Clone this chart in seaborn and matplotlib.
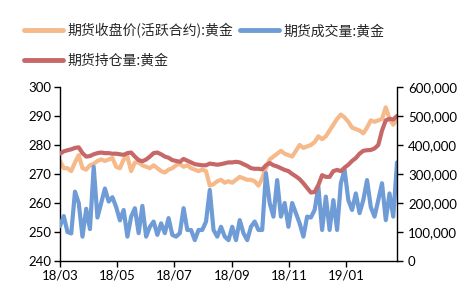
import numpy as np
import pandas as pd
import matplotlib
matplotlib.use("Agg")
import matplotlib.pyplot as plt
import matplotlib.dates as mdates
from matplotlib.ticker import FuncFormatter
from matplotlib.lines import Line2D
import seaborn as sns

# ---- data (sampled every 4 days from 2018-03-01) ----
dates = pd.date_range("2018-03-01", periods=91, freq="4D")

price = [274.5, 272, 272, 271, 274, 276.5, 272, 271.5, 273, 273.5,
         274.5, 275, 274.5, 275, 275.5, 272.5, 272, 275, 276, 271,
         274, 274, 273, 272.5, 272, 273, 272, 271, 270.5, 271.5,
         272, 273, 273.5, 272.5, 273, 272, 271.5, 271, 271.5, 271,
         266, 266.5, 267.5, 268, 267, 267.5, 267, 268, 269, 268.5,
         268, 268, 267.5, 266, 268.5, 272, 275, 276, 277, 278,
         277, 276.5, 276, 278, 280, 279, 279.5, 280, 281, 283,
         282, 283, 285, 287, 289, 290.5, 289.5, 288, 286, 285.5,
         285, 284, 286, 288.5, 288, 288.5, 289, 293, 289, 287,
         289]

volume = [120, 155, 100, 95, 239, 200, 84, 180, 110, 325,
          150, 200, 250, 205, 220, 186, 140, 176, 84, 153,
          182, 96, 190, 84, 118, 136, 90, 130, 96, 148,
          90, 84, 96, 182, 107, 107, 72, 107, 107, 136,
          245, 107, 84, 118, 84, 72, 118, 72, 141, 96,
          72, 118, 136, 107, 107, 303, 200, 153, 279, 153,
          200, 118, 200, 165, 130, 84, 153, 150, 176, 256,
          107, 222, 107, 210, 107, 268, 314, 210, 176, 233,
          165, 210, 279, 186, 153, 210, 268, 141, 233, 153,
          340]
volume = [v * 1000 for v in volume]

open_interest = [370, 378, 382, 385, 390, 392, 372, 360, 362, 368,
                 372, 374, 372, 372, 370, 370, 368, 366, 372, 374,
                 360, 348, 344, 350, 360, 372, 374, 368, 360, 356,
                 348, 345, 342, 352, 346, 340, 334, 332, 330, 330,
                 336, 334, 332, 334, 337, 340, 340, 342, 340, 334,
                 328, 320, 318, 318, 316, 330, 338, 330, 326, 320,
                 314, 310, 300, 292, 282, 268, 252, 236, 238, 262,
                 296, 290, 290, 310, 314, 310, 322, 332, 345, 355,
                 370, 380, 382, 383, 388, 400, 450, 485, 490, 488,
                 500]
open_interest = [v * 1000 for v in open_interest]

labels = ["期货收盘价(活跃合约):黄金", "期货成交量:黄金", "期货持仓量:黄金"]
left_ticks = [240, 250, 260, 270, 280, 290, 300]
right_ticks = [0, 100000, 200000, 300000, 400000, 500000, 600000]
x_ticks = ["2018-03-01", "2018-05-01", "2018-07-01", "2018-09-01", "2018-11-01", "2019-01-01"]

c_price = "#F5B98A"
c_vol = "#6F9BD6"
c_oi = "#C76868"

sns.set_theme(style="white")
plt.rcParams['font.family'] = ['Noto Sans CJK SC', 'DejaVu Sans']

fig = plt.figure(figsize=(4.68, 3.03), dpi=100)
ax = fig.add_axes([60/468, 1-261/303, (397-60)/468, (261-87)/303])
ax2 = ax.twinx()

df = pd.DataFrame({"date": dates, "price": price, "volume": volume, "oi": open_interest})
sns.lineplot(data=df, x="date", y="price", ax=ax, color=c_price, lw=3.0)
sns.lineplot(data=df, x="date", y="volume", ax=ax2, color=c_vol, lw=3.0)
sns.lineplot(data=df, x="date", y="oi", ax=ax2, color=c_oi, lw=3.0)

ax.set_ylim(240, 300)
ax.set_yticks(left_ticks)
ax2.set_ylim(0, 600000)
ax2.set_yticks(right_ticks)
ax2.yaxis.set_major_formatter(FuncFormatter(lambda v, p: f"{int(v):,}"))
ax.set_xlim(dates[0], dates[-1])
ax.set_xticks(pd.to_datetime(x_ticks))
ax.xaxis.set_major_formatter(mdates.DateFormatter("%y/%m"))
for a in (ax, ax2):
    a.set_xlabel("")
    a.set_ylabel("")
    for s in a.spines.values():
        s.set_visible(False)

ax.spines["left"].set_visible(True)
ax.spines["bottom"].set_visible(True)
ax2.spines["right"].set_visible(True)
for s in (ax.spines["left"], ax.spines["bottom"], ax2.spines["right"]):
    s.set_color("black")
    s.set_linewidth(1.0)

ax.tick_params(axis="both", direction="out", length=4, width=1, color="black", pad=2,
               left=True, bottom=True)
ax2.tick_params(axis="y", direction="out", length=4, width=1, color="black", pad=4, right=True)
for lab in ax.get_xticklabels() + ax.get_yticklabels() + ax2.get_yticklabels():
    lab.set_fontfamily("Lato")
    lab.set_fontsize(9.5)
    lab.set_color("black")

handles = [Line2D([], [], color=c_price, lw=3.5),
           Line2D([], [], color=c_oi, lw=3.5),
           Line2D([], [], color=c_vol, lw=3.5)]
fig.legend(handles, [labels[0], labels[2], labels[1]], ncol=2,
           loc="upper left", bbox_to_anchor=(0.025, 0.965), frameon=False,
           prop=dict(family=['Noto Sans CJK SC', 'DejaVu Sans'], size=10),
           handlelength=2.8, handletextpad=0.3, columnspacing=0.5, labelspacing=1.1)

fig.savefig("out.png", dpi=100)
